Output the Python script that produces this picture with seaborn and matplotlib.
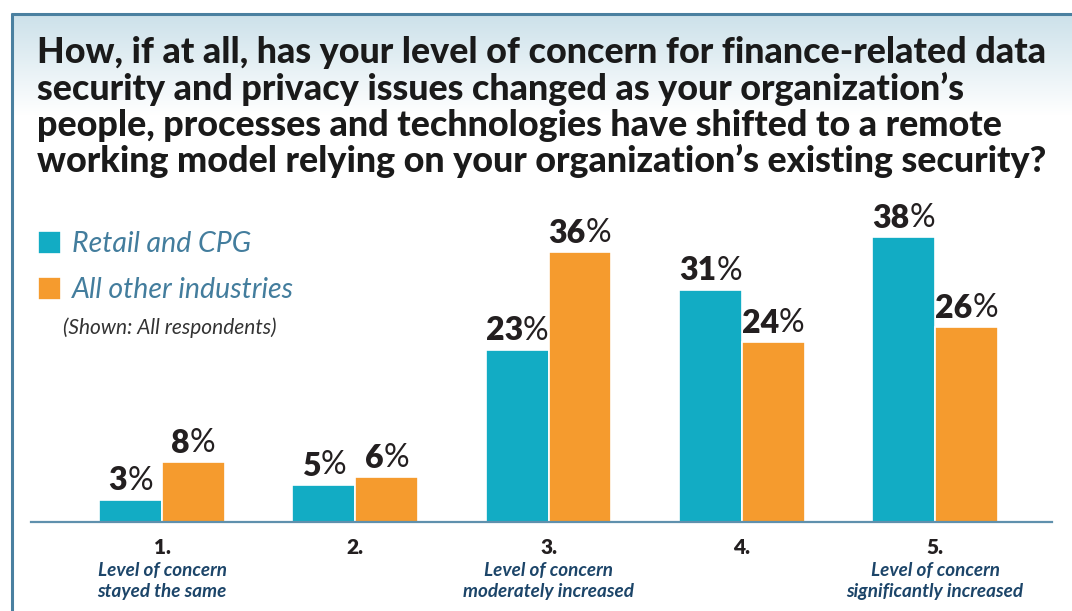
import numpy as np
import pandas as pd
import matplotlib
matplotlib.use("Agg")
import matplotlib.pyplot as plt
import seaborn as sns
from matplotlib.colors import to_rgb

# ---------------- data ----------------
categories = ["1.", "2.", "3.", "4.", "5."]
descriptions = [
    "Level of concern\nstayed the same",
    "",
    "Level of concern\nmoderately increased",
    "",
    "Level of concern\nsignificantly increased",
]
series_names = ["Retail and CPG", "All other industries"]
retail_values = [3, 5, 23, 31, 38]
other_values = [8, 6, 36, 24, 26]
title_text = ("How, if at all, has your level of concern for finance-related data\n"
              "security and privacy issues changed as your organization\u2019s\n"
              "people, processes and technologies have shifted to a remote\n"
              "working model relying on your organization\u2019s existing security?")
note_text = "(Shown: All respondents)"

TEAL = "#12ACC4"
ORANGE = "#F59B2E"
BORDER = "#4A80A0"
LEGEND_C = "#437D9D"
DESC_C = "#1C4569"

W, H = 1072, 611
sns.set_theme(style="white")
plt.rcParams["font.family"] = ["Lato", "DejaVu Sans"]

fig = plt.figure(figsize=(W / 100, H / 100), dpi=100)
fig.patch.set_facecolor("white")

# background panel with gradient and border
bg = fig.add_axes([0, 0, 1, 1], zorder=0)
grad = np.linspace(0, 1, 256)[:, None, None]
c0 = np.array(to_rgb("#CCE1EA"))
c1 = np.array([1.0, 1.0, 1.0])
img = c0 * (1 - grad) + c1 * grad
img = np.repeat(img, 2, axis=1)
bg.imshow(img, extent=[11, W, 115, 14], aspect="auto", interpolation="bilinear")
bg.plot([11.5, 11.5], [12.5, H], color=BORDER, lw=2.2, solid_capstyle="butt")
bg.plot([10.5, W], [13.5, 13.5], color=BORDER, lw=2.2, solid_capstyle="butt")
bg.set_xlim(0, W)
bg.set_ylim(H, 0)
bg.axis("off")

# main axes
ax = fig.add_axes([31 / W, 1 - 522 / H, 1021 / W, 300 / H], zorder=1)
ax.patch.set_alpha(0)

df = pd.DataFrame({
    "category": categories * 2,
    "series": [s for s in series_names for _ in categories],
    "value": retail_values + other_values,
})
sns.barplot(data=df, x="category", y="value", hue="series", order=categories,
            hue_order=series_names, palette=[TEAL, ORANGE], width=0.65,
            saturation=1, edgecolor="white", linewidth=1.2, ax=ax, errorbar=None)

ax.set_xlim(-0.678, 4.605)
ax.set_ylim(0, 40)
for s in ["top", "right", "left"]:
    ax.spines[s].set_visible(False)
ax.spines["bottom"].set_color("#5F90AD")
ax.spines["bottom"].set_linewidth(1.6)
ax.set_yticks([])
ax.set_xlabel("")
ax.set_ylabel("")
ax.tick_params(axis="x", length=0, pad=11.5)
for lab in ax.get_xticklabels():
    lab.set_fontsize(15)
    lab.set_fontweight("heavy")
    lab.set_color("#231F20")

for i, d in enumerate(descriptions):
    if d:
        ax.text(i, -0.133, d, transform=ax.get_xaxis_transform(), ha="center", va="top",
                fontsize=13.6, fontstyle="italic", fontweight="bold", color=DESC_C,
                linespacing=1.3)

# value labels: bold number + regular percent sign, centred over each bar
pairs = []
for cont in ax.containers:
    for bar in cont:
        v = bar.get_height()
        xc = bar.get_x() + bar.get_width() / 2
        t1 = ax.annotate(f"{v:.0f}", xy=(xc, v), xytext=(0, 9), textcoords="offset pixels",
                         ha="left", va="baseline", fontsize=23, fontweight="heavy", color="#231F20")
        t2 = ax.annotate("%", xy=(1, 0), xycoords=t1, ha="left", va="bottom",
                         fontsize=23, fontweight="normal", color="#231F20")
        pairs.append((t1, t2))

# legend
handles, labels = ax.get_legend_handles_labels()
ax.legend(handles, labels, loc="upper left", bbox_to_anchor=(38 / W, 1 - 231 / H),
          bbox_transform=fig.transFigure, frameon=False,
          prop={"family": ["Lato", "DejaVu Sans"], "style": "italic", "size": 20.5},
          labelcolor=LEGEND_C, handlelength=0.8, handleheight=0.85, handletextpad=0.4,
          labelspacing=0.7, borderpad=0, borderaxespad=0)

fig.text(63 / W, 1 - 328 / H, note_text, ha="left", va="center", fontsize=15,
         fontstyle="italic", color="#333333")

fig.text(37 / W, 1 - 36 / H, title_text, ha="left", va="top", fontsize=25.8,
         fontweight="black", color="#1A1A1A", linespacing=1.1)

fig.canvas.draw()
r = fig.canvas.get_renderer()
for t1, t2 in pairs:
    w = t1.get_window_extent(r).width + t2.get_window_extent(r).width
    t1.set_position((-w / 2, 9))

fig.savefig("out.png", dpi=100)
